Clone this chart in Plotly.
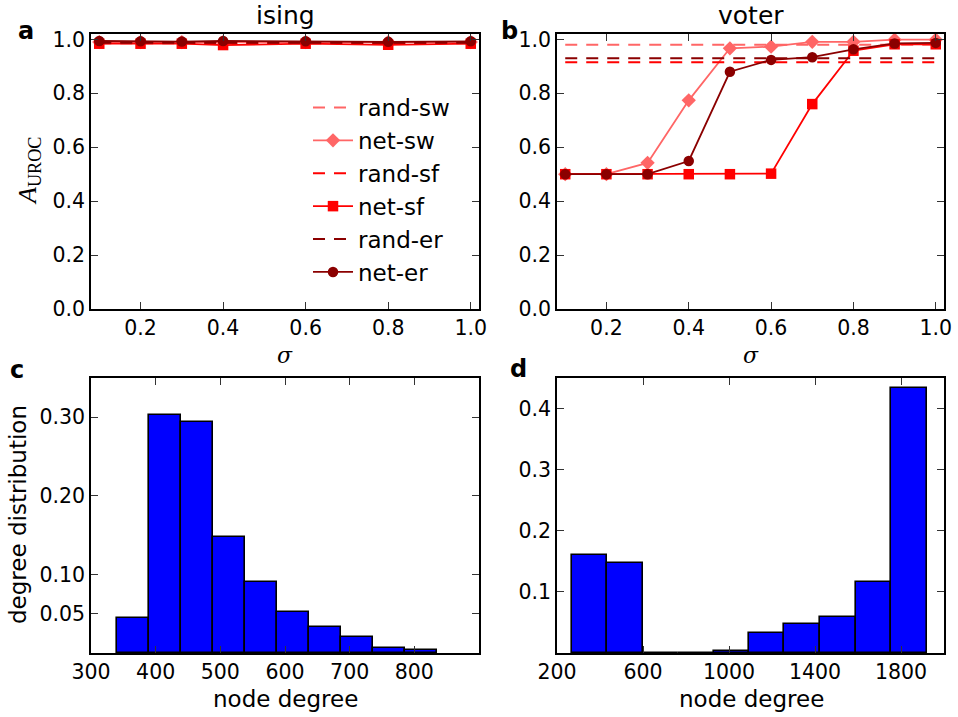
import plotly.graph_objects as go

# ---------------- data ----------------
sigma_ising = [0.1, 0.2, 0.3, 0.4, 0.6, 0.8, 1.0]
ising_net_sw = [0.990, 0.990, 0.990, 0.990, 0.990, 0.990, 0.990]
ising_net_sf = [0.984, 0.984, 0.984, 0.979, 0.984, 0.980, 0.984]
ising_net_er = [0.994, 0.993, 0.992, 0.994, 0.993, 0.991, 0.993]
ising_rand_sw = 0.990
ising_rand_sf = 0.986
ising_rand_er = 0.988

sigma_voter = [0.1, 0.2, 0.3, 0.4, 0.5, 0.6, 0.7, 0.8, 0.9, 1.0]
voter_net_sw = [0.500, 0.500, 0.542, 0.774, 0.967, 0.973, 0.991, 0.991, 0.999, 0.999]
voter_net_sf = [0.500, 0.500, 0.500, 0.500, 0.500, 0.502, 0.760, 0.958, 0.982, 0.982]
voter_net_er = [0.500, 0.500, 0.500, 0.549, 0.880, 0.924, 0.934, 0.963, 0.985, 0.987]
voter_rand_sw = 0.980
voter_rand_sf = 0.915
voter_rand_er = 0.930

c_edges = [340, 389.5, 439, 488.5, 538, 587.5, 637, 686.5, 736, 785.5, 835]
c_heights = [0.044, 0.303, 0.294, 0.1475, 0.090, 0.052, 0.0325, 0.0205, 0.0068, 0.0042]

d_edges = [268, 433, 598, 763, 928, 1093, 1258, 1423, 1589, 1754, 1919]
d_heights = [0.161, 0.147, 0.0, 0.0, 0.003, 0.0326, 0.047, 0.059, 0.117, 0.433]

col_sw = "#ff6666"
col_sf = "#ff0000"
col_er = "#8b0000"

W, H = 958, 717
FONT = "DejaVu Sans"

def px_x(p):
    return p / W

def px_y(p):
    return 1 - p / H

fig = go.Figure()

def add_panel(xa, ya, sig, nsw, nsf, ner, rsw, rsf, rer, legend):
    specs = [
        ("rand-sw", [rsw] * len(sig), col_sw, None),
        ("net-sw", nsw, col_sw, "diamond"),
        ("rand-sf", [rsf] * len(sig), col_sf, None),
        ("net-sf", nsf, col_sf, "square"),
        ("rand-er", [rer] * len(sig), col_er, None),
        ("net-er", ner, col_er, "circle"),
    ]
    for name, vals, col, sym in specs:
        if sym is None:
            fig.add_trace(go.Scatter(
                x=sig, y=vals, mode="lines", name=name,
                line=dict(color=col, width=2, dash="12px,9px"),
                xaxis=xa, yaxis=ya, showlegend=legend, cliponaxis=False))
        else:
            size = {"diamond": 11, "square": 10.5, "circle": 10.5}[sym]
            fig.add_trace(go.Scatter(
                x=sig, y=vals, mode="lines+markers", name=name,
                line=dict(color=col, width=1.8),
                marker=dict(symbol=sym, size=size, color=col, line=dict(width=0)),
                xaxis=xa, yaxis=ya, showlegend=legend, cliponaxis=False))

add_panel("x", "y", sigma_ising, ising_net_sw, ising_net_sf, ising_net_er,
          ising_rand_sw, ising_rand_sf, ising_rand_er, True)
add_panel("x2", "y2", sigma_voter, voter_net_sw, voter_net_sf, voter_net_er,
          voter_rand_sw, voter_rand_sf, voter_rand_er, False)

def add_hist(xa, ya, edges, heights):
    centers = [(edges[i] + edges[i + 1]) / 2 for i in range(len(heights))]
    widths = [edges[i + 1] - edges[i] for i in range(len(heights))]
    fig.add_trace(go.Bar(
        x=centers, y=heights, width=widths,
        marker=dict(color="#0000ff", line=dict(color="black", width=1.6)),
        xaxis=xa, yaxis=ya, showlegend=False))

add_hist("x3", "y3", c_edges, c_heights)
add_hist("x4", "y4", d_edges, d_heights)

dom_left = [px_x(91), px_x(479)]
dom_right = [px_x(557), px_x(944)]
dom_top = [px_y(309), px_y(34)]
dom_bot = [px_y(653), px_y(378)]

axis_common = dict(
    showline=True, linecolor="black", linewidth=1.5, mirror="ticks",
    ticks="inside", ticklen=7, tickwidth=1, tickcolor="#333",
    showgrid=False, zeroline=False, automargin=False,
    tickfont=dict(family=FONT, size=20.5, color="black"),
)

fig.update_layout(
    width=W, height=H,
    margin=dict(l=0, r=0, t=0, b=0, pad=0, autoexpand=False),
    paper_bgcolor="white", plot_bgcolor="white",
    bargap=0,
    font=dict(family=FONT, color="black"),
    xaxis=dict(domain=dom_left, anchor="y", range=[0.08, 1.02],
               tickvals=[0.2, 0.4, 0.6, 0.8, 1.0], ticktext=["0.2", "0.4", "0.6", "0.8", "1.0"], **axis_common),
    yaxis=dict(domain=dom_top, anchor="x", range=[0, 1.02],
               tickvals=[0, 0.2, 0.4, 0.6, 0.8, 1.0], ticktext=["0.0", "0.2", "0.4", "0.6", "0.8", "1.0"], **axis_common),
    xaxis2=dict(domain=dom_right, anchor="y2", range=[0.08, 1.02],
                tickvals=[0.2, 0.4, 0.6, 0.8, 1.0], ticktext=["0.2", "0.4", "0.6", "0.8", "1.0"], **axis_common),
    yaxis2=dict(domain=dom_top, anchor="x2", range=[0, 1.02],
                tickvals=[0, 0.2, 0.4, 0.6, 0.8, 1.0], ticktext=["0.0", "0.2", "0.4", "0.6", "0.8", "1.0"], **axis_common),
    xaxis3=dict(domain=dom_left, anchor="y3", range=[300, 900],
                tickvals=[300, 400, 500, 600, 700, 800], **axis_common),
    yaxis3=dict(domain=dom_bot, anchor="x3", range=[0, 0.35],
                tickvals=[0.05, 0.10, 0.20, 0.30], ticktext=["0.05", "0.10", "0.20", "0.30"], **axis_common),
    xaxis4=dict(domain=dom_right, anchor="y4", range=[200, 2000],
                tickvals=[200, 600, 1000, 1400, 1800], **axis_common),
    yaxis4=dict(domain=dom_bot, anchor="x4", range=[0, 0.45],
                tickvals=[0.1, 0.2, 0.3, 0.4], ticktext=["0.1", "0.2", "0.3", "0.4"], **axis_common),
    legend=dict(
        x=px_x(308), y=px_y(190), xanchor="left", yanchor="middle",
        bgcolor="rgba(0,0,0,0)", borderwidth=0,
        font=dict(family=FONT, size=23, color="black"),
        itemwidth=40, tracegroupgap=0,
    ),
)

ann = []
def text(x, y, t, size, family=FONT, bold=False, angle=0):
    if bold:
        t = "<b>" + t + "</b>"
    ann.append(dict(x=px_x(x), y=px_y(y), xref="paper", yref="paper", text=t,
                    showarrow=False, xanchor="center", yanchor="middle",
                    textangle=angle, font=dict(family=family, size=size, color="black")))

text(285, 15, "ising", 25)
text(751, 15, "voter", 25)
text(26, 31, "a", 24, bold=True)
text(509, 31, "b", 24, bold=True)
text(17, 370, "c", 24, bold=True)
text(518, 369, "d", 24, bold=True)
text(285, 355, "<i>σ</i>", 22, family="DejaVu Serif")
text(751, 355, "<i>σ</i>", 22, family="DejaVu Serif")
text(29, 171, "<i>A</i><sub>UROC</sub>", 26, family="Liberation Serif", angle=-90)
text(18, 515, "degree distribution", 23, angle=-90)
text(285, 699, "node degree", 23)
text(751, 699, "node degree", 23)
fig.update_layout(annotations=ann)

fig.write_html("out.html")
